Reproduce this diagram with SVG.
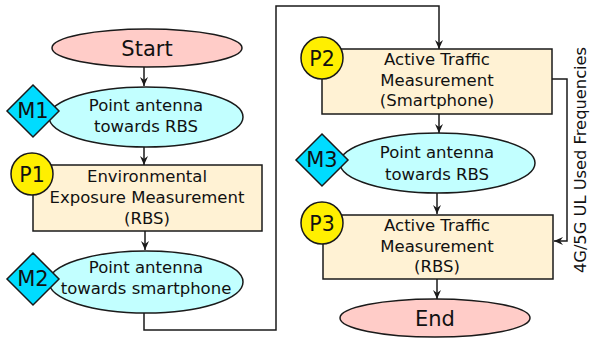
<svg xmlns="http://www.w3.org/2000/svg" width="590" height="339" viewBox="0 0 590 339">
<defs>
<style>
text{font-family:"DejaVu Sans","Verdana",sans-serif;fill:#111;text-anchor:middle}
.t{font-size:16.5px}
.v{font-size:16.3px}
.big{font-size:21px}
.lab{font-size:20.5px}
.term{fill:#ffccc8;stroke:#1a1a1a;stroke-width:1.5}
.ell{fill:#c2ffff;stroke:#1a1a1a;stroke-width:1.5}
.box{fill:#fff2d4;stroke:#1a1a1a;stroke-width:1.5}
.dia{fill:#00dcff;stroke:#1a1a1a;stroke-width:1.5}
.cir{fill:#ffef00;stroke:#1a1a1a;stroke-width:1.5}
.con{fill:none;stroke:#1a1a1a;stroke-width:1.5;marker-end:url(#ah)}
</style>
<marker id="ah" markerWidth="10" markerHeight="10" refX="9" refY="5" orient="auto" markerUnits="userSpaceOnUse">
<path d="M0,1 L9,5 L0,9 L3,5 z" fill="#1a1a1a"/>
</marker>
</defs>

<g id="connectors">
<line class="con" x1="144" y1="67" x2="144" y2="86"/>
<line class="con" x1="144" y1="147" x2="144" y2="165"/>
<line class="con" x1="145" y1="231" x2="145" y2="250"/>
<polyline class="con" points="144,313 144,330 276,330 276,6 439,6 439,49"/>
<line class="con" x1="439" y1="114" x2="439" y2="133"/>
<line class="con" x1="437" y1="193" x2="437" y2="214"/>
<line class="con" x1="437" y1="279" x2="437" y2="299"/>
<polyline class="con" points="552,79 567,79 567,241 554,241"/>
</g>

<g id="start">
<ellipse class="term" cx="147" cy="48" rx="95" ry="19"/>
<text class="big" x="147" y="56">Start</text>
</g>

<g id="m1">
<ellipse class="ell" cx="146" cy="117" rx="97" ry="30"/>
<text class="t" x="146" y="111">Point antenna</text>
<text class="t" x="146" y="132">towards RBS</text>
<polygon class="dia" points="33,85 59,111 33,137 7,111"/>
<text class="big" x="33" y="118">M1</text>
</g>

<g id="p1">
<rect class="box" x="33" y="165" width="229" height="66"/>
<text class="t" x="147" y="182">Environmental</text>
<text class="t" x="147" y="203">Exposure Measurement</text>
<text class="t" x="147" y="224">(RBS)</text>
<circle class="cir" cx="32" cy="174" r="21"/>
<text class="lab" x="32" y="182">P1</text>
</g>

<g id="m2">
<ellipse class="ell" cx="146" cy="282" rx="97" ry="31"/>
<text class="t" x="146" y="273">Point antenna</text>
<text class="t" x="146" y="294">towards smartphone</text>
<polygon class="dia" points="33,253 59,279 33,305 7,279"/>
<text class="big" x="33" y="286">M2</text>
</g>

<g id="p2">
<rect class="box" x="322" y="49" width="230" height="65"/>
<text class="t" x="437" y="65">Active Traffic</text>
<text class="t" x="437" y="86">Measurement</text>
<text class="t" x="437" y="106">(Smartphone)</text>
<circle class="cir" cx="322" cy="58" r="21"/>
<text class="lab" x="322" y="66">P2</text>
</g>

<g id="m3">
<ellipse class="ell" cx="437.5" cy="163" rx="97.5" ry="30"/>
<text class="t" x="437" y="158">Point antenna</text>
<text class="t" x="437" y="180">towards RBS</text>
<polygon class="dia" points="322,134 348,160 322,186 296,160"/>
<text class="big" x="322" y="167">M3</text>
</g>

<g id="p3">
<rect class="box" x="323" y="215" width="230" height="64"/>
<text class="t" x="437" y="231">Active Traffic</text>
<text class="t" x="437" y="252">Measurement</text>
<text class="t" x="437" y="272">(RBS)</text>
<circle class="cir" cx="322" cy="223" r="21"/>
<text class="lab" x="322" y="231">P3</text>
</g>

<g id="end">
<ellipse class="term" cx="435" cy="318" rx="95" ry="19"/>
<text class="big" x="435" y="326">End</text>
</g>

<g id="side-label">
<text class="v" transform="translate(585.5,160) rotate(-90)" x="0" y="0">4G/5G UL Used Frequencies</text>
</g>
</svg>
